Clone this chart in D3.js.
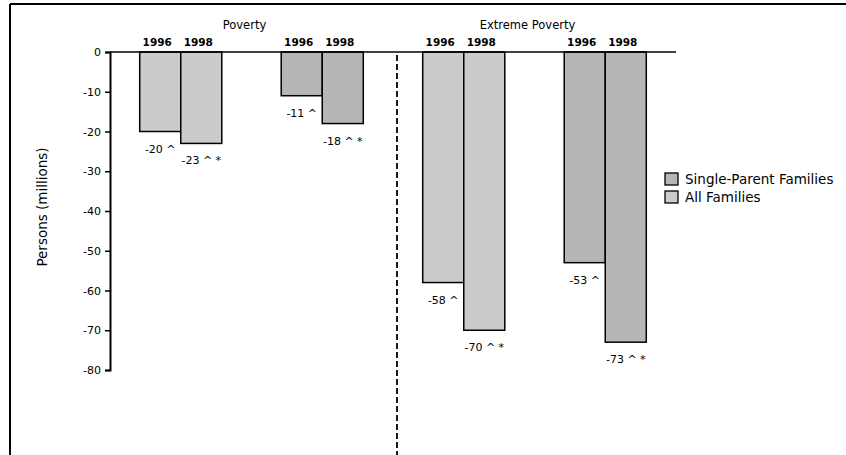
<!DOCTYPE html>
<html>
<head>
<meta charset="utf-8">
<script src="https://cdn.jsdelivr.net/npm/d3@7"></script>
<style>
  html, body { margin: 0; padding: 0; background: #fff; }
  svg { display: block; font-family: "DejaVu Sans", sans-serif; }
</style>
</head>
<body>
<svg id="chart" width="846" height="455"></svg>
<script>
// ---- data ----
const groups = ["Poverty|All", "Poverty|Single", "Extreme|All", "Extreme|Single"];
const groupSeries = ["All Families", "Single-Parent Families", "All Families", "Single-Parent Families"];
const years = ["1996", "1998"];
const values = [[-20, -23], [-11, -18], [-58, -70], [-53, -73]];
const valueLabels = [["-20 ^", "-23 ^ *"], ["-11 ^", "-18 ^ *"], ["-58 ^", "-70 ^ *"], ["-53 ^", "-73 ^ *"]];
const sections = [{ name: "Poverty", groups: ["Poverty|All", "Poverty|Single"] },
                  { name: "Extreme Poverty", groups: ["Extreme|All", "Extreme|Single"] }];
const yTicks = [0, -10, -20, -30, -40, -50, -60, -70, -80];
const legendItems = ["Single-Parent Families", "All Families"];
const colors = { "All Families": "#cbcbcb", "Single-Parent Families": "#b6b6b6" };

// ---- layout ----
const svg = d3.select("#chart");
const mLeft = 110, mRight = 676, mTop = 52, mBottom = 370;

const x0 = d3.scaleBand().domain(groups).range([mLeft, mRight]).paddingInner(0.42).paddingOuter(0.21);
const x1 = d3.scaleBand().domain(years).range([0, x0.bandwidth()]);
const y = d3.scaleLinear().domain([0, -80]).range([mTop, mBottom]);

// frame
svg.append("line").attr("x1", 10).attr("x2", 846).attr("y1", 4).attr("y2", 4)
  .attr("stroke", "#000").attr("stroke-width", 2);
svg.append("line").attr("x1", 10).attr("x2", 10).attr("y1", 4).attr("y2", 455)
  .attr("stroke", "#000").attr("stroke-width", 2);

// bars
const gBars = svg.append("g");
groups.forEach((g, gi) => {
  years.forEach((yr, yi) => {
    const v = values[gi][yi];
    gBars.append("rect")
      .attr("x", x0(g) + x1(yr))
      .attr("y", y(0))
      .attr("width", x1.bandwidth())
      .attr("height", y(v) - y(0))
      .attr("fill", colors[groupSeries[gi]])
      .attr("stroke", "#000")
      .attr("stroke-width", 1.5);
    gBars.append("text")
      .attr("x", x0(g) + x1(yr) + x1.bandwidth() / 2)
      .attr("y", y(v) + 21)
      .attr("text-anchor", "middle")
      .attr("font-size", 11)
      .text(valueLabels[gi][yi]);
    svg.append("text")
      .attr("x", x0(g) + x1(yr) + x1.bandwidth() / 2 - 3)
      .attr("y", 46)
      .attr("text-anchor", "middle")
      .attr("font-size", 10.5)
      .attr("font-weight", "bold")
      .text(yr);
  });
});

// section titles
sections.forEach(s => {
  const a = x0(s.groups[0]), b = x0(s.groups[1]) + x0.bandwidth();
  svg.append("text")
    .attr("x", (a + b) / 2 - 7)
    .attr("y", 29)
    .attr("text-anchor", "middle")
    .attr("font-size", 11.5)
    .text(s.name);
});

// zero line
svg.append("line")
  .attr("x1", mLeft).attr("x2", mRight)
  .attr("y1", y(0)).attr("y2", y(0))
  .attr("stroke", "#000").attr("stroke-width", 1.5);

// y axis
const yAxis = d3.axisLeft(y).tickValues(yTicks).tickSize(5).tickPadding(4).tickFormat(d => d === 0 ? "0" : "-" + Math.abs(d));
const ga = svg.append("g").attr("transform", `translate(${mLeft},0)`).call(yAxis);
ga.select(".domain").attr("stroke-width", 2);
ga.selectAll(".tick line").attr("stroke-width", 1.5);
ga.selectAll(".tick text").attr("font-size", 11).attr("font-family", "DejaVu Sans, sans-serif").attr("fill", "#000");

// y title
svg.append("text")
  .attr("transform", `translate(47,${(mTop + mBottom) / 2 - 4}) rotate(-90)`)
  .attr("text-anchor", "middle")
  .attr("font-size", 13.5)
  .text("Persons (millions)");

// separator
const sepX = (x0(groups[1]) + x0.bandwidth() + x0(groups[2])) / 2 + 4;
svg.append("line")
  .attr("x1", sepX).attr("x2", sepX)
  .attr("y1", 55).attr("y2", 455)
  .attr("stroke", "#000").attr("stroke-width", 1.8)
  .attr("stroke-dasharray", "6,3");

// legend
const lg = svg.append("g").attr("transform", "translate(665,173)");
legendItems.forEach((name, i) => {
  lg.append("rect").attr("x", 0).attr("y", i * 18).attr("width", 13).attr("height", 12)
    .attr("fill", colors[name]).attr("stroke", "#000").attr("stroke-width", 1.3);
  lg.append("text").attr("x", 20).attr("y", i * 18 + 11)
    .attr("font-size", 13.5).text(name);
});
</script>
</body>
</html>
